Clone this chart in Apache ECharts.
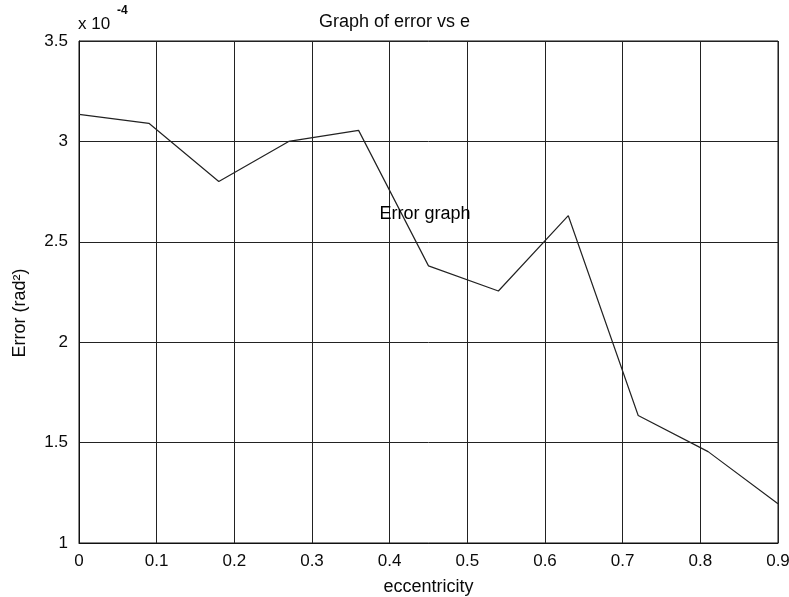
<!DOCTYPE html>
<html>
<head>
<meta charset="utf-8">
<script src="https://cdn.jsdelivr.net/npm/echarts@6/dist/echarts.min.js"></script>
<style>
html, body { margin: 0; padding: 0; background: #fff; }
#main { width: 789px; height: 597px; }
</style>
</head>
<body>
<div id="main"></div>
<script>
// eccentricity values (x) and error in units of 1e-4 rad^2 (y)
const eccentricity = [0, 0.09, 0.18, 0.27, 0.36, 0.45, 0.54, 0.63, 0.72, 0.81, 0.9];
const errorVals = [3.135, 3.09, 2.80, 3.00, 3.055, 2.38, 2.255, 2.63, 1.635, 1.455, 1.195];
const xTicks = [0, 0.1, 0.2, 0.3, 0.4, 0.5, 0.6, 0.7, 0.8, 0.9];
const yTicks = [1, 1.5, 2, 2.5, 3, 3.5];
const notePos = [0.3875, 2.634];
const noteText = 'Error graph';

const chart = echarts.init(document.getElementById('main'));
const font = 'Liberation Sans, Arial, sans-serif';
const ink = '#0a0a0a';

const option = {
    backgroundColor: '#fff',
    animation: false,
    title: {
        text: 'Graph of error vs e',
        left: 'center',
        top: 8,
        textStyle: { fontFamily: font, fontSize: 18, fontWeight: 'normal', color: ink }
    },
    grid: {
        left: 79, right: 11, top: 41, bottom: 54,
        outerBoundsMode: 'none',
        show: true, borderColor: '#111', borderWidth: 1
    },
    xAxis: {
        type: 'value',
        min: 0, max: 0.9, interval: 0.1,
        name: 'eccentricity',
        nameLocation: 'middle',
        nameGap: 35,
        nameTextStyle: { fontFamily: font, fontSize: 18, color: ink },
        axisLine: { show: true, lineStyle: { color: '#111' } },
        axisTick: { show: false },
        axisLabel: {
            fontFamily: font, fontSize: 17, color: ink, margin: 10,
            formatter: v => xTicks.includes(Math.round(v * 10) / 10) ? String(Math.round(v * 10) / 10) : ''
        },
        splitLine: { show: true, lineStyle: { color: '#222', width: 1 } }
    },
    yAxis: {
        type: 'value',
        min: 1, max: 3.5, interval: 0.5,
        axisLine: { show: true, lineStyle: { color: '#111' } },
        axisTick: { show: false },
        axisLabel: {
            fontFamily: font, fontSize: 17, color: ink, margin: 11,
            formatter: v => yTicks.includes(v) ? String(v) : ''
        },
        splitLine: { show: true, lineStyle: { color: '#222', width: 1 } }
    },
    graphic: [
        {
            type: 'text', left: 78, top: 16,
            style: { text: 'x 10', fontFamily: font, fontSize: 17, fill: ink }
        },
        {
            type: 'text', left: 117, top: 5,
            style: { text: '-4', fontFamily: font, fontSize: 12, fontWeight: 'bold', fill: ink }
        },
        {
            type: 'text', x: 20, y: 313, rotation: Math.PI / 2,
            style: {
                text: 'Error (rad²)', fontFamily: font, fontSize: 18, fill: ink,
                align: 'center', verticalAlign: 'middle'
            }
        }
    ],
    series: [
        {
            type: 'line',
            data: eccentricity.map((x, i) => [x, errorVals[i]]),
            symbol: 'none',
            lineStyle: { color: '#222', width: 1.2 }
        },
        {
            type: 'scatter',
            data: [notePos],
            symbolSize: 1,
            itemStyle: { color: 'rgba(0,0,0,0)' },
            emphasis: { disabled: true },
            z: 5,
            label: {
                show: true,
                formatter: noteText,
                position: [0, 0],
                align: 'left',
                verticalAlign: 'middle',
                opacity: 1,
                textBorderWidth: 0,
                fontFamily: font, fontSize: 18, color: '#000'
            }
        }
    ]
};
chart.setOption(option);
</script>
</body>
</html>
